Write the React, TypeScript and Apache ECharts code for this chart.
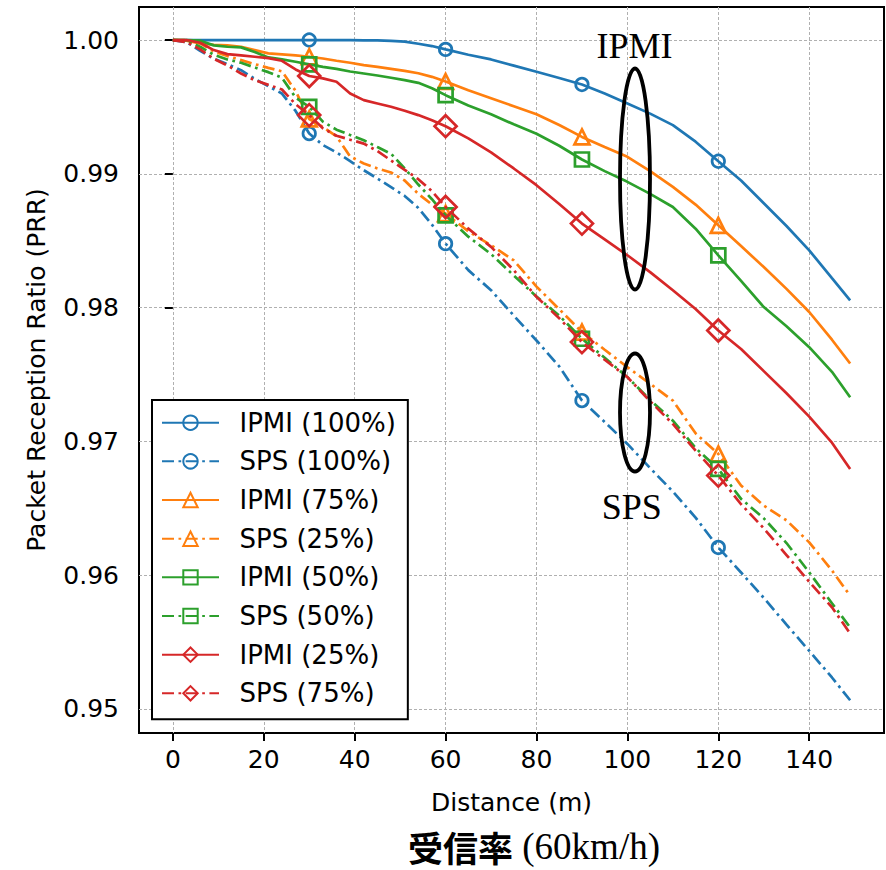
import React, { useEffect, useRef } from "react";
import * as echarts from "echarts";

const distances = [
  0, 3, 6, 9, 12, 15, 18, 21, 24, 27, 30, 33, 36, 39, 42, 45, 48, 51, 54, 57, 60,
  65, 70, 75, 80, 85, 90, 95, 100, 105, 110, 115, 120, 125, 130, 135, 140, 145, 149,
];
const markerDistances = [30, 60, 90, 120];
const xTicks = [0, 20, 40, 60, 80, 100, 120, 140];
const yTicks = [0.95, 0.96, 0.97, 0.98, 0.99, 1.0];

const ipmi100 = [
  1.0, 1.0, 1.0, 1.0, 1.0, 1.0, 1.0, 1.0, 1.0, 1.0, 1.0, 1.0, 1.0, 0.99999, 0.99998, 0.99997, 0.99994, 0.99988, 0.99972, 0.99955, 0.9993,
  0.9989, 0.99855, 0.99809, 0.99763, 0.99716, 0.99668, 0.996, 0.99526, 0.9945, 0.99364, 0.9924, 0.99094, 0.9895, 0.9878, 0.9861, 0.98428, 0.9822, 0.98054,
];
const sps100 = [
  1.0, 0.99985, 0.9992, 0.9986, 0.9982, 0.99775, 0.9971, 0.99655, 0.996, 0.9947, 0.99301, 0.99215, 0.9916, 0.99095, 0.99027, 0.98965, 0.989, 0.98835, 0.98745, 0.9862, 0.98478,
  0.9828, 0.9813, 0.9794, 0.97754, 0.9756, 0.97305, 0.97145, 0.96981, 0.968, 0.96625, 0.9643, 0.96207, 0.9602, 0.9583, 0.9563, 0.95434, 0.95235, 0.95065,
];
const ipmi75 = [
  1.0, 0.99995, 0.99975, 0.99965, 0.9996, 0.9995, 0.99925, 0.999, 0.99893, 0.99885, 0.99875, 0.99862, 0.99845, 0.9983, 0.99813, 0.998, 0.99785, 0.9977, 0.99752, 0.99725, 0.9969,
  0.99625, 0.99565, 0.99505, 0.99445, 0.99365, 0.99276, 0.992, 0.99127, 0.9902, 0.98902, 0.9877, 0.98615, 0.9846, 0.98303, 0.9814, 0.97967, 0.9776, 0.97582,
];
const sps25 = [
  1.0, 1.0, 0.99975, 0.99915, 0.9988, 0.9985, 0.9982, 0.99792, 0.99766, 0.9962, 0.9941, 0.9935, 0.9928, 0.9913, 0.99077, 0.9904, 0.9901, 0.9895, 0.9885, 0.9877, 0.98703,
  0.9857, 0.98466, 0.98353, 0.98157, 0.97988, 0.97817, 0.97685, 0.97555, 0.9743, 0.97305, 0.9706, 0.96906, 0.9667, 0.9652, 0.9641, 0.96245, 0.96035, 0.95846,
];
const ipmi50 = [
  1.0, 1.0, 0.99995, 0.9996, 0.9995, 0.99945, 0.9991, 0.9987, 0.99855, 0.99838, 0.99818, 0.998, 0.99785, 0.99765, 0.9975, 0.99735, 0.99718, 0.997, 0.9968, 0.9964, 0.99588,
  0.9951, 0.99445, 0.9937, 0.993, 0.9921, 0.99107, 0.9902, 0.9894, 0.9885, 0.98752, 0.9859, 0.98391, 0.982, 0.98004, 0.9786, 0.97704, 0.9752, 0.9733,
];
const sps50 = [
  1.0, 0.99995, 0.9995, 0.9989, 0.99855, 0.9983, 0.99795, 0.9976, 0.99718, 0.9957, 0.99501, 0.9939, 0.9933, 0.9929, 0.99251, 0.992, 0.9915, 0.9904, 0.9892, 0.9881, 0.9869,
  0.9853, 0.984, 0.9824, 0.98082, 0.9794, 0.97767, 0.97625, 0.9748, 0.9731, 0.97155, 0.9695, 0.96794, 0.9657, 0.96425, 0.9624, 0.96021, 0.9579, 0.95609,
];
const ipmi25 = [
  1.0, 1.0, 0.9998, 0.99925, 0.99895, 0.99885, 0.99875, 0.99865, 0.99845, 0.9978, 0.99731, 0.99713, 0.99688, 0.99601, 0.99551, 0.99526, 0.99501, 0.99471, 0.99439, 0.99401, 0.99356,
  0.99265, 0.9916, 0.9904, 0.98915, 0.98775, 0.98628, 0.9851, 0.98391, 0.98265, 0.9813, 0.9799, 0.97829, 0.9769, 0.97525, 0.9736, 0.97185, 0.9699, 0.96794,
];
const sps75 = [
  1.0, 0.99985, 0.9993, 0.9986, 0.9981, 0.9975, 0.997, 0.99665, 0.9963, 0.9952, 0.99439, 0.9934, 0.99285, 0.99255, 0.99226, 0.9917, 0.991, 0.9903, 0.9896, 0.9887, 0.98752,
  0.9859, 0.98454, 0.9828, 0.9808, 0.9792, 0.97742, 0.9761, 0.9748, 0.973, 0.9713, 0.9693, 0.96744, 0.9653, 0.9635, 0.9615, 0.9595, 0.9576, 0.95564,
];

const seriesNames = [
  "IPMI (100%)", "SPS (100%)", "IPMI (75%)", "SPS (25%)",
  "IPMI (50%)", "SPS (50%)", "IPMI (25%)", "SPS (75%)",
];
const seriesValues = [ipmi100, sps100, ipmi75, sps25, ipmi50, sps50, ipmi25, sps75];

const BLUE = "#1f77b4";
const ORANGE = "#ff7f0e";
const GREEN = "#2ca02c";
const RED = "#d62728";
const styles = [
  { color: BLUE, dash: false, symbol: "circle", size: 12.5 },
  { color: BLUE, dash: true, symbol: "circle", size: 12.5 },
  { color: ORANGE, dash: false, symbol: "triangle", size: 15 },
  { color: ORANGE, dash: true, symbol: "triangle", size: 15 },
  { color: GREEN, dash: false, symbol: "rect", size: 14 },
  { color: GREEN, dash: true, symbol: "rect", size: 14 },
  { color: RED, dash: false, symbol: "diamond", size: 22 },
  { color: RED, dash: true, symbol: "diamond", size: 22 },
];

const SANS = "DejaVu Sans";
const SERIF = "Liberation Serif";

export default function App() {
  const ref = useRef<HTMLDivElement>(null);
  useEffect(() => {
    const chart = echarts.init(ref.current!, null, { renderer: "svg" });
    const series = seriesNames.map((name, k) => {
      const st = styles[k];
      const vals = seriesValues[k];
      return {
        type: "line",
        name,
        data: distances.map((d, i) =>
          markerDistances.includes(d)
            ? { value: [d, vals[i]] }
            : { value: [d, vals[i]], symbol: "none" }
        ),
        symbol: st.symbol,
        symbolSize: st.size,
        showAllSymbol: true,
        lineStyle: {
          color: st.color,
          width: 2.7,
          type: st.dash ? [12, 4.5, 2.7, 4.5] : "solid",
        },
        itemStyle: { color: "rgba(0,0,0,0)", borderColor: st.color, borderWidth: 2.7 },
        emphasis: { disabled: true },
        z: 2 + k,
      };
    });

    const option: any = {
      animation: false,
      backgroundColor: "#fff",
      grid: {
        left: 139,
        right: 2,
        top: 7,
        bottom: 137,
        show: true,
        borderColor: "#000",
        borderWidth: 2,
        backgroundColor: "transparent",
      },
      xAxis: {
        type: "value",
        min: -7.45,
        max: 156.45,
        name: "Distance (m)",
        nameLocation: "middle",
        nameGap: 57,
        nameTextStyle: { fontFamily: SANS, fontSize: 25, color: "#000" },
        axisLine: { show: false },
        axisTick: {
          show: true,
          inside: false,
          length: 8,
          customValues: xTicks,
          lineStyle: { color: "#000", width: 2 },
        },
        axisLabel: {
          customValues: xTicks,
          margin: 14,
          fontFamily: SANS,
          fontSize: 25,
          color: "#000",
        },
        splitLine: {
          show: true,
          lineStyle: { color: "#b0b0b0", width: 1, type: [3, 2] },
        },
      },
      yAxis: {
        type: "value",
        min: 0.9482,
        max: 1.00247,
        name: "Packet Reception Ratio (PRR)",
        nameLocation: "middle",
        nameGap: 90,
        nameTextStyle: { fontFamily: SANS, fontSize: 25, color: "#000" },
        axisLine: { show: false },
        axisTick: {
          show: true,
          inside: false,
          length: 8,
          customValues: yTicks,
          lineStyle: { color: "#000", width: 2 },
        },
        axisLabel: {
          customValues: yTicks,
          margin: 20,
          fontFamily: SANS,
          fontSize: 25,
          color: "#000",
          formatter: (v: number) => v.toFixed(2),
        },
        splitLine: {
          show: true,
          lineStyle: { color: "#b0b0b0", width: 1, type: [3, 2] },
        },
      },
      legend: {
        orient: "vertical",
        left: 152,
        top: 400,
        padding: [9.7, 12, 13, 9],
        itemWidth: 57,
        itemHeight: 18,
        itemGap: 12.66,
        borderColor: "#000",
        borderWidth: 2,
        borderRadius: 0,
        backgroundColor: "#fff",
        selectedMode: false,
        textStyle: {
          fontFamily: SANS,
          fontSize: 26,
          color: "#000",
          padding: [0, 0, 0, 15.5],
        },
        data: seriesNames,
      },
      graphic: [
        {
          type: "ellipse",
          shape: { cx: 635, cy: 179, rx: 15, ry: 110.5 },
          style: { fill: "none", stroke: "#000", lineWidth: 3.8 },
          z: 100,
        },
        {
          type: "ellipse",
          shape: { cx: 635, cy: 412.5, rx: 15, ry: 59 },
          style: { fill: "none", stroke: "#000", lineWidth: 3.8 },
          z: 100,
        },
        {
          type: "text",
          x: 634.5,
          y: 45.5,
          style: {
            text: "IPMI",
            fontFamily: SERIF,
            fontSize: 36,
            fill: "#000",
            align: "center",
            verticalAlign: "middle",
          },
          z: 100,
        },
        {
          type: "text",
          x: 631.7,
          y: 507,
          style: {
            text: "SPS",
            fontFamily: SERIF,
            fontSize: 36,
            fill: "#000",
            align: "center",
            verticalAlign: "middle",
          },
          z: 100,
        },
        {
          type: "text",
          x: 534,
          y: 846,
          style: {
            text: "{a|受信率}{b| (60km/h)}",
            align: "center",
            verticalAlign: "middle",
            fill: "#000",
            rich: {
              a: { fontFamily: "Noto Sans CJK JP", fontSize: 35, fontWeight: "bold", fill: "#000", lineHeight: 40 },
              b: { fontFamily: SERIF, fontSize: 37, fill: "#000", lineHeight: 40 },
            },
          },
          z: 100,
        },
      ],
      series,
    };
    chart.setOption(option);
    return () => chart.dispose();
  }, []);
  return (
    <div
      ref={ref}
      style={{ position: "absolute", left: 0, top: 0, width: 886, height: 870 }}
    />
  );
}
